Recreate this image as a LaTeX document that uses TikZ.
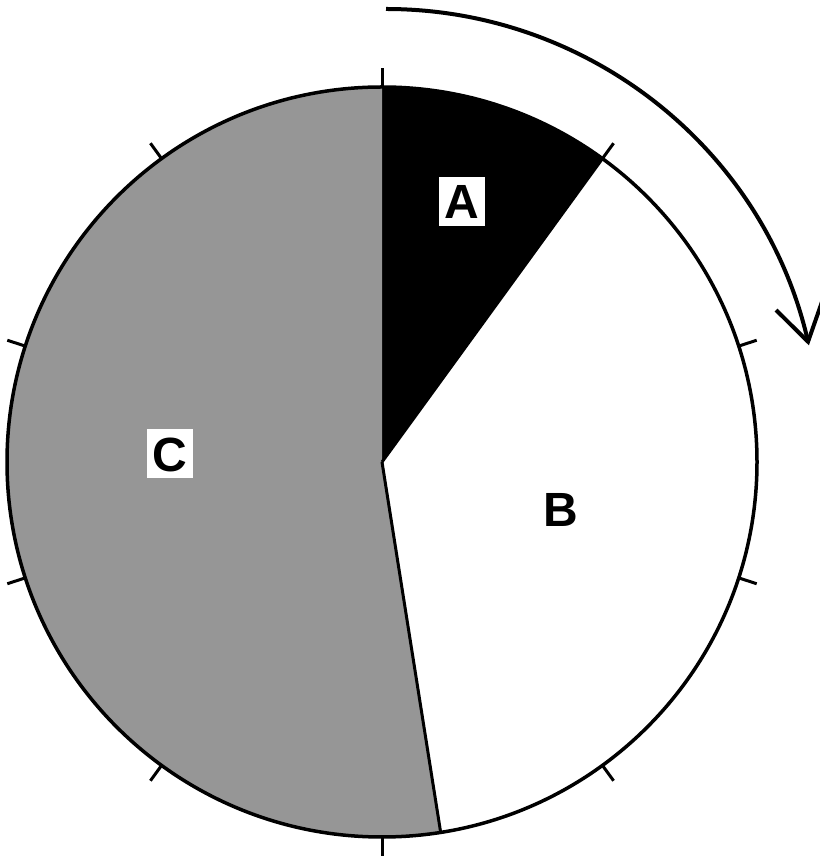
\documentclass[tikz,border=0pt]{standalone}
\usepackage{fontspec}
\setmainfont{Liberation Sans}
\usetikzlibrary{arrows.meta}
\definecolor{piegray}{RGB}{150,150,150}
\begin{document}
\begin{tikzpicture}[x=1pt,y=1pt,
  lbl/.style={font=\fontsize{48}{48}\selectfont\bfseries, text height=34.4pt, text depth=0pt, inner sep=0pt},
  lblbox/.style={lbl, fill=white, minimum width=46pt, minimum height=49pt},
  rim/.style={line width=3.5pt},
  tick/.style={line width=3pt},
  edge/.style={line width=3pt}]
\useasboundingbox (0,0) rectangle (819,859);
\coordinate (O) at (382,397);
% slices
\fill[black] (O) -- ([shift={(90:375)}]O) arc (90:54:375) -- cycle;
\fill[white] (O) -- ([shift={(54:375)}]O) arc (54:-81:375) -- cycle;
\fill[piegray] (O) -- ([shift={(-81:375)}]O) arc (-81:-270:375) -- cycle;
\draw[edge] (O) -- ([shift={(54:375)}]O);
\draw[edge] (O) -- ([shift={(-81:375)}]O);
\draw[rim] (O) circle (375);
% ticks
\foreach \a in {90,54,...,-234}
  \draw[tick] ([shift={(\a:375)}]O) -- ([shift={(\a:394)}]O);
% rotation arrow
\coordinate (AC) at (386,416);
\draw[line width=4pt, -{Straight Barb[length=38pt,width=48pt]}]
  ([shift={(90:434)}]AC) arc (90:13:434);
% labels
\node[lblbox] (A) at (462,657.5) {A};
\node[lbl] (B) at (561,350) {B};
\node[lblbox] (C) at (169.5,405) {C};
\end{tikzpicture}
\end{document}
